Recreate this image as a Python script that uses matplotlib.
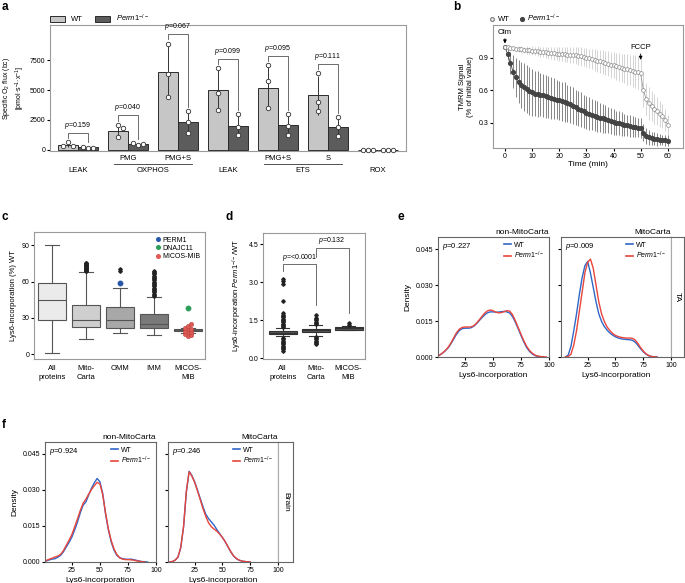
import matplotlib
matplotlib.use("Agg")
from matplotlib import pyplot as plt
from matplotlib import transforms
from matplotlib.patches import Patch
from matplotlib.lines import Line2D
import numpy as np

plt.rcParams["font.family"] = ["Liberation Sans", "DejaVu Sans"]
plt.rcParams["font.size"] = 5.5
plt.rcParams["mathtext.fontset"] = "custom"
plt.rcParams["mathtext.rm"] = "Liberation Sans"
plt.rcParams["mathtext.it"] = "Liberation Sans:italic"
plt.rcParams["axes.linewidth"] = 0.8
plt.rcParams["xtick.major.size"] = 2
plt.rcParams["ytick.major.size"] = 2
plt.rcParams["xtick.major.pad"] = 1.5
plt.rcParams["ytick.major.pad"] = 1.5
plt.rcParams["xtick.labelsize"] = 5
plt.rcParams["ytick.labelsize"] = 5

KO = r"$\mathit{Perm1}^{-/-}$"
nan = np.nan

# ---- a: respirometry ----
flux_sub = ["", "PMG", "PMG+S", "", "PMG+S", "S", ""]
flux_state = ["LEAK", "OXPHOS", "LEAK", "ETS", "ROX"]
state_groups = [(0, 0), (1, 2), (3, 3), (4, 5), (6, 6)]
wt_flux_mean = [420, 1600, 6550, 5000, 5140, 4580, 0]
ko_flux_mean = [220, 470, 2360, 2010, 2080, 1920, 0]
wt_flux_pts = [[630, 360, 280], [2090, 1790, 1100], [8890, 6330, 4390],
               [6830, 4750, 3360], [7080, 5720, 3500], [6420, 4030, 3280], [0, 0, 0]]
ko_flux_pts = [[190, 165, 275], [380, 450, 560], [3250, 2310, 1420],
               [2990, 1950, 1230], [3000, 2030, 1280], [2720, 1920, 1170], [0, 0, 0]]
flux_p = ["0.159", "0.040", "0.067", "0.099", "0.095", "0.111"]

# ---- b: TMRM time course (one value per minute) ----
tmrm_time = list(range(61))
wt_tmrm = [1.000, 0.995, 0.990, 0.985, 0.980, 0.978, 0.975, 0.972, 0.970, 0.967,
           0.965, 0.962, 0.958, 0.955, 0.952, 0.950, 0.947, 0.944, 0.941, 0.938,
           0.935, 0.932, 0.930, 0.928, 0.926, 0.923, 0.920, 0.916, 0.912, 0.907,
           0.900, 0.894, 0.887, 0.880, 0.872, 0.865, 0.857, 0.850, 0.843, 0.836,
           0.830, 0.822, 0.815, 0.808, 0.800, 0.793, 0.786, 0.779, 0.772, 0.765,
           0.755, 0.600, 0.520, 0.480, 0.455, 0.430, 0.410, 0.385, 0.360, 0.330,
           0.280]
wt_tmrm_sd = [0.000, 0.010, 0.015, 0.020, 0.020, 0.025, 0.030, 0.030, 0.035, 0.035,
              0.040, 0.040, 0.045, 0.045, 0.050, 0.050, 0.055, 0.055, 0.060, 0.060,
              0.065, 0.065, 0.070, 0.070, 0.075, 0.075, 0.080, 0.080, 0.085, 0.085,
              0.090, 0.090, 0.095, 0.100, 0.100, 0.105, 0.110, 0.110, 0.115, 0.120,
              0.120, 0.125, 0.130, 0.130, 0.135, 0.140, 0.140, 0.145, 0.150, 0.150,
              0.155, 0.150, 0.150, 0.150, 0.140, 0.140, 0.130, 0.120, 0.110, 0.100,
              0.090]
ko_tmrm = [1.000, 0.930, 0.850, 0.770, 0.720, 0.680, 0.650, 0.630, 0.610, 0.595,
           0.580, 0.570, 0.565, 0.560, 0.553, 0.545, 0.538, 0.530, 0.522, 0.515,
           0.508, 0.500, 0.492, 0.482, 0.470, 0.458, 0.445, 0.432, 0.420, 0.408,
           0.396, 0.386, 0.376, 0.367, 0.358, 0.350, 0.342, 0.334, 0.326, 0.318,
           0.310, 0.303, 0.296, 0.289, 0.283, 0.277, 0.272, 0.267, 0.262, 0.258,
           0.254, 0.210, 0.180, 0.168, 0.160, 0.155, 0.150, 0.146, 0.143, 0.140,
           0.138]
ko_tmrm_sd = [0.000, 0.050, 0.100, 0.150, 0.180, 0.200, 0.210, 0.220, 0.220, 0.220,
              0.220, 0.210, 0.210, 0.200, 0.200, 0.200, 0.190, 0.190, 0.190, 0.180,
              0.180, 0.180, 0.180, 0.170, 0.170, 0.170, 0.160, 0.160, 0.160, 0.150,
              0.150, 0.150, 0.140, 0.140, 0.140, 0.130, 0.130, 0.130, 0.120, 0.120,
              0.120, 0.110, 0.110, 0.110, 0.100, 0.100, 0.100, 0.100, 0.090, 0.090,
              0.090, 0.080, 0.070, 0.070, 0.060, 0.060, 0.060, 0.050, 0.050, 0.050,
              0.050]

# ---- c: Lys6 incorporation WT boxplots ----
c_groups = ["All\nproteins", "Mito-\nCarta", "OMM", "IMM", "MICOS-\nMIB"]
c_q1 = [28.3, 22.6, 21.7, 21.7, 19.3]
c_med = [44.5, 28.6, 28.6, 25.3, 20.0]
c_q3 = [59.2, 41.0, 39.1, 32.8, 20.8]
c_lo = [1.0, 12.9, 17.9, 15.7, 17.5]
c_hi = [90.5, 68.0, 54.8, 47.3, 22.0]
c_fliers = [[],
            [68.5, 69, 69.5, 70, 70.5, 71, 71.5, 72, 72.5, 73, 73.5, 74, 74.5, 75, 75.5],
            [68.8, 70.2],
            [48, 49, 50, 51, 52, 53, 54, 55, 56, 57, 58, 59, 60, 61, 62, 63, 64, 65, 66, 67, 68, 69],
            []]
micos_pts = [15, 16, 17, 18, 18.5, 19.5, 20.5, 21, 22, 23.5, 25]
perm1_omm = 59.0
dnajc11_micos = 38.5

# ---- d: Perm1/WT ratio boxplots ----
d_groups = ["All\nproteins", "Mito-\nCarta", "MICOS-\nMIB"]
d_q1 = [0.96, 1.05, 1.13]
d_med = [1.00, 1.10, 1.18]
d_q3 = [1.08, 1.15, 1.23]
d_lo = [0.86, 0.89, 1.10]
d_hi = [1.18, 1.31, 1.26]
d_fliers = [[0.3, 0.35, 0.4, 0.45, 0.5, 0.55, 0.6, 0.65, 0.7, 0.75, 0.8, 1.22, 1.27, 1.32, 1.37,
             1.42, 1.47, 1.52, 1.57, 1.62, 1.67, 1.72, 1.77, 2.25, 2.95, 3.05, 3.15],
            [0.55, 0.6, 0.65, 0.7, 0.75, 0.8, 0.85, 1.35, 1.4, 1.45, 1.5, 1.55, 1.6, 1.7],
            [1.32, 1.38]]
d_p = ["<0.0001", "0.132"]

# ---- e/f: density curves ----
dens_x = [1, 2.5, 5, 7.5, 10, 12.5, 15, 17.5, 20, 22.5, 25, 27.5, 30, 32.5, 35, 37.5, 40,
          42.5, 45, 47.5, 50, 52.5, 55, 57.5, 60, 62.5, 65, 67.5, 70, 72.5, 75, 77.5, 80,
          82.5, 85, 87.5, 90, 92.5, 95, 97.5, 100]
ta_non_wt = [0.0004, 0.0008, 0.0016, 0.0026, 0.0038, 0.0055, 0.0075, 0.0095, 0.0110, 0.0118,
             0.0120, 0.0120, 0.0121, 0.0127, 0.0137, 0.0150, 0.0163, 0.0175, 0.0184, 0.0188,
             0.0188, 0.0187, 0.0187, 0.0189, 0.0190, 0.0188, 0.0183, 0.0168, 0.0145, 0.0118,
             0.0090, 0.0063, 0.0040, 0.0024, 0.0013, 0.0006, 0.0002, 0.0001, 0.0, nan, nan]
ta_non_ko = [0.0004, 0.0008, 0.0016, 0.0027, 0.0040, 0.0058, 0.0080, 0.0101, 0.0116, 0.0123,
             0.0125, 0.0125, 0.0125, 0.0129, 0.0139, 0.0153, 0.0168, 0.0182, 0.0192, 0.0196,
             0.0193, 0.0187, 0.0184, 0.0185, 0.0189, 0.0193, 0.0191, 0.0176, 0.0151, 0.0123,
             0.0095, 0.0068, 0.0045, 0.0028, 0.0016, 0.0008, 0.0004, 0.0002, 0.0001, 0.0, nan]
ta_mito_wt = [nan, nan, 0.0, 0.0008, 0.0045, 0.0110, 0.0180, 0.0260, 0.0330, 0.0380,
              0.0398, 0.0350, 0.0290, 0.0230, 0.0180, 0.0148, 0.0127, 0.0112, 0.0100, 0.0091,
              0.0084, 0.0079, 0.0076, 0.0074, 0.0073, 0.0072, 0.0070, 0.0063, 0.0050, 0.0035,
              0.0022, 0.0012, 0.0005, 0.0002, 0.0001, 0.0, nan, nan, nan, nan, nan]
ta_mito_ko = [nan, nan, 0.0, 0.0002, 0.0012, 0.0050, 0.0110, 0.0190, 0.0270, 0.0350,
              0.0395, 0.0408, 0.0370, 0.0300, 0.0230, 0.0180, 0.0148, 0.0125, 0.0110, 0.0098,
              0.0090, 0.0085, 0.0082, 0.0080, 0.0079, 0.0079, 0.0078, 0.0072, 0.0058, 0.0040,
              0.0025, 0.0013, 0.0006, 0.0002, 0.0001, 0.0, nan, nan, nan, nan, nan]
br_non_wt = [0.0003, 0.0005, 0.0009, 0.0012, 0.0014, 0.0020, 0.0028, 0.0043, 0.0063, 0.0082,
             0.0104, 0.0134, 0.0167, 0.0205, 0.0237, 0.0250, 0.0280, 0.0308, 0.0330, 0.0348,
             0.0334, 0.0285, 0.0200, 0.0135, 0.0084, 0.0050, 0.0028, 0.0018, 0.0014, 0.0012,
             0.0011, 0.0012, 0.0010, 0.0007, 0.0004, 0.0002, 0.0001, 0.0, nan, nan, nan]
br_non_ko = [0.0004, 0.0007, 0.0012, 0.0016, 0.0021, 0.0025, 0.0032, 0.0048, 0.0070, 0.0091,
             0.0115, 0.0147, 0.0180, 0.0215, 0.0245, 0.0262, 0.0283, 0.0302, 0.0318, 0.0332,
             0.0325, 0.0280, 0.0205, 0.0138, 0.0090, 0.0055, 0.0032, 0.0018, 0.0012, 0.0010,
             0.0010, 0.0009, 0.0008, 0.0005, 0.0003, 0.0001, 0.0, nan, nan, nan, nan]
br_mito_wt = [nan, 0.0, 0.0002, 0.0008, 0.0020, 0.0060, 0.0146, 0.0290, 0.0378, 0.0360,
              0.0334, 0.0300, 0.0265, 0.0230, 0.0199, 0.0181, 0.0167, 0.0153, 0.0135, 0.0118,
              0.0102, 0.0084, 0.0063, 0.0042, 0.0025, 0.0014, 0.0007, 0.0004, 0.0002, 0.0001,
              0.0, nan, nan, nan, nan, nan, nan, nan, nan, nan, nan]
br_mito_ko = [nan, 0.0, 0.0002, 0.0008, 0.0021, 0.0062, 0.0148, 0.0295, 0.0376, 0.0358,
              0.0332, 0.0297, 0.0260, 0.0222, 0.0190, 0.0163, 0.0147, 0.0137, 0.0128, 0.0116,
              0.0102, 0.0085, 0.0064, 0.0043, 0.0026, 0.0015, 0.0008, 0.0004, 0.0002, 0.0001,
              0.0, nan, nan, nan, nan, nan, nan, nan, nan, nan, nan]
dens_p = {"TA": ["0.227", "0.009"], "Brain": ["0.924", "0.246"]}

BLUE = "#2f67c8"
RED = "#e8453c"
FRAME = "#9a9a9a"

W, H = 685, 583
fig = plt.figure(figsize=(W / 100, H / 100), dpi=100)


def box(x0, y0, x1, y1):
    # axes placed by pixel corners (top-left origin)
    return fig.add_axes([x0 / W, 1 - y1 / H, (x1 - x0) / W, (y1 - y0) / H])


def frame(ax, col=FRAME):
    for s in ax.spines.values():
        s.set_color(col)


def swarm(vals, dy, dx):
    # spread overlapping points sideways, like a beeswarm
    placed, offs = [], []
    for v in vals:
        k, o = 0, 0.0
        while any(abs(v - pv) < dy and abs(o - po) < dx * 0.9 for pv, po in placed):
            k += 1
            o = dx * ((k + 1) // 2) * (1 if k % 2 else -1)
        placed.append((v, o))
        offs.append(o)
    return np.array(offs)


def label(x, y, s):
    fig.text(x / W, 1 - y / H, s, fontsize=8.5, fontweight="bold", ha="left", va="center")


# ================= a =================
ax = box(50, 25, 406, 151)
frame(ax)
for i in range(len(wt_flux_mean)):
    for mean, pts, off, col in ((wt_flux_mean[i], wt_flux_pts[i], -0.2, "#c6c6c6"),
                                (ko_flux_mean[i], ko_flux_pts[i], 0.2, "#5c5c5c")):
        sd = np.std(pts, ddof=1)
        ax.bar(i + off, mean, 0.4, color=col, edgecolor="#2b2b2b", lw=0.7, zorder=2)
        ax.vlines(i + off, mean - sd, mean + sd, color="#333333", lw=0.7, zorder=3)
        ax.plot(i + off + swarm(pts, 420, 0.1), pts, "o", ms=3.2, mfc="white",
                mec="#333333", mew=0.6, zorder=4, clip_on=False)
for i, p in enumerate(flux_p):
    wmax, kmax = max(wt_flux_pts[i]), max(ko_flux_pts[i])
    top = wmax + 800
    ax.plot([i - 0.2, i - 0.2, i + 0.2, i + 0.2], [wmax + 350, top, top, kmax + 350],
            color="#555555", lw=0.6)
    ax.text(i, top + 150, r"$\mathit{p}$=" + p, ha="center", va="bottom", fontsize=5)
trans = transforms.blended_transform_factory(ax.transData, ax.transAxes)
for i, s in enumerate(flux_sub):
    ax.text(i, -0.06, s, transform=trans, ha="center", va="center", fontsize=5.5)
for name, (g0, g1) in zip(flux_state, state_groups):
    ax.text((g0 + g1) / 2, -0.155, name, transform=trans, ha="center", va="center", fontsize=5.5)
    if g1 > g0:
        ax.plot([g0 - 0.28, g1 + 0.28], [-0.1, -0.1], transform=trans, color="#333333",
                lw=0.6, clip_on=False)
ax.set_xlim(-0.56, 6.56)
ax.set_ylim(-100, 10450)
ax.set_xticks([])
ax.set_yticks([0, 2500, 5000, 7500])
ax.set_ylabel("Specific O$_2$ flux (bc)\n[pmol·s$^{-1}$·x$^{-1}$]", fontsize=5, labelpad=1.5)
ax.legend(handles=[Patch(fc="#c6c6c6", ec="#2b2b2b", lw=0.7, label="WT"),
                   Patch(fc="#5c5c5c", ec="#2b2b2b", lw=0.7, label=KO)],
          loc="lower left", bbox_to_anchor=(0, 1.01), ncol=2, frameon=False, fontsize=5.5,
          handlelength=2.0, handleheight=0.8, columnspacing=1.5, borderaxespad=0, borderpad=0)

# ================= b =================
ax = box(493, 25, 683, 148)
frame(ax)
ax.errorbar(tmrm_time, ko_tmrm, yerr=ko_tmrm_sd, fmt="o-", ms=2.7, mfc="#444444", mec="#444444",
            color="#444444", lw=0.6, ecolor="#555555", elinewidth=0.5, capsize=0)
ax.errorbar(tmrm_time, wt_tmrm, yerr=wt_tmrm_sd, fmt="o-", ms=2.7, mfc="white", mec="#8a8a8a",
            mew=0.5, color="#9a9a9a", lw=0.6, ecolor="#c4c4c4", elinewidth=0.5, capsize=0)
arrow = dict(arrowstyle="-|>", lw=0.6, color="k", mutation_scale=5, shrinkA=0, shrinkB=0)
ax.annotate("Olm", xy=(0, 1.03), xytext=(0, 1.1), ha="center", va="bottom", fontsize=5.5,
            arrowprops=arrow)
ax.annotate("FCCP", xy=(50, 0.88), xytext=(50, 0.96), ha="center", va="bottom", fontsize=5.5,
            arrowprops=arrow)
ax.set_xlim(-4.4, 65.6)
ax.set_ylim(0.07, 1.2)
ax.set_xticks([0, 10, 20, 30, 40, 50, 60])
ax.set_yticks([0.3, 0.6, 0.9])
ax.set_xlabel("Time (min)", fontsize=6, labelpad=1)
ax.set_ylabel("TMRM Signal\n(% of initial value)", fontsize=5.5, labelpad=3)
ax.legend(handles=[Line2D([], [], marker="o", ls="", ms=2.7, mfc="white", mec="#8a8a8a", label="WT"),
                   Line2D([], [], marker="o", ls="", ms=2.7, mfc="#444444", mec="#444444", label=KO)],
          loc="lower left", bbox_to_anchor=(-0.02, 1.01), ncol=2, frameon=False, fontsize=5.5,
          handlelength=0.8, handletextpad=0.3, columnspacing=1.2, borderaxespad=0, borderpad=0)

# ================= c =================
ax = box(34, 232, 205, 359)
frame(ax)
c_cols = ["#ebebeb", "#cfcfcf", "#a8a8a8", "#7a7a7a", "#3a3a3a"]
stats = [dict(med=c_med[i], q1=c_q1[i], q3=c_q3[i], whislo=c_lo[i], whishi=c_hi[i],
              fliers=c_fliers[i]) for i in range(len(c_groups))]
bp = ax.bxp(stats, positions=range(1, 6), widths=0.8, patch_artist=True,
            boxprops=dict(edgecolor="#555555", lw=0.8),
            medianprops=dict(color="#555555", lw=0.8),
            whiskerprops=dict(color="#555555", lw=0.8),
            capprops=dict(color="#555555", lw=0.8),
            flierprops=dict(marker="D", ms=1.8, mfc="#222222", mec="#222222"))
for patch, col in zip(bp["boxes"], c_cols):
    patch.set_facecolor(col)
ax.plot(5 + swarm(micos_pts, 2.5, 0.09), micos_pts, "o", ms=3.2, mfc="#e05a55",
        mec="#b03a36", mew=0.3, zorder=4)
ax.plot(3, perm1_omm, "o", ms=3.2, color="#2a58a8", zorder=4)
ax.plot(5, dnajc11_micos, "o", ms=3.2, color="#2e9e5b", zorder=4)
ax.set_xlim(0.47, 5.5)
ax.set_ylim(-4, 101)
ax.set_yticks([0, 30, 60, 90])
ax.set_xticks(range(1, 6))
ax.set_xticklabels(c_groups, fontsize=5.5, linespacing=1.4)
ax.tick_params(axis="x", length=0, pad=4)
ax.set_ylabel("Lys6-incorporation (%) WT", fontsize=5.5, labelpad=3)
ax.legend(handles=[Line2D([], [], marker="o", ls="", ms=2.6, color=c, label=l)
                   for c, l in (("#2a58a8", "PERM1"), ("#2e9e5b", "DNAJC11"), ("#e05a55", "MICOS-MIB"))],
          loc="upper right", frameon=False, fontsize=5, handletextpad=0.1, labelspacing=0.15,
          borderaxespad=0.3, handlelength=1.0)

# ================= d =================
ax = box(263, 233, 365, 359)
frame(ax)
stats = [dict(med=d_med[i], q1=d_q1[i], q3=d_q3[i], whislo=d_lo[i], whishi=d_hi[i],
              fliers=d_fliers[i]) for i in range(len(d_groups))]
bp = ax.bxp(stats, positions=range(1, 4), widths=0.85, capwidths=0.4, patch_artist=True,
            boxprops=dict(facecolor="#555555", edgecolor="#333333", lw=0.8),
            medianprops=dict(color="#333333", lw=0.8),
            whiskerprops=dict(color="#333333", lw=0.8),
            capprops=dict(color="#333333", lw=0.8),
            flierprops=dict(marker="D", ms=1.8, mfc="#222222", mec="#222222"))
tops = [3.72, 4.37]
for k, p in enumerate(d_p):
    x0, x1 = k + 1, k + 2
    left = max(d_fliers[k]) + 0.3 if k == 0 else tops[0] + 0.3
    right = max(d_fliers[k + 1]) + 0.4
    ax.plot([x0, x0, x1, x1], [left, tops[k], tops[k], right], color="#555555", lw=0.6)
    ax.text((x0 + x1) / 2, tops[k] + 0.06, r"$\mathit{p}$=" + p, ha="center", va="bottom", fontsize=5)
ax.set_xlim(0.4, 3.5)
ax.set_ylim(-0.03, 4.95)
ax.set_yticks([0, 1.5, 3.0, 4.5])
ax.set_yticklabels(["0.0", "1.5", "3.0", "4.5"])
ax.set_xticks(range(1, 4))
ax.set_xticklabels(d_groups, fontsize=5.5, linespacing=1.4)
ax.tick_params(axis="x", length=0, pad=4)
ax.set_ylabel(r"Lys6-incorporation $\mathit{Perm1}^{-/-}$/WT", fontsize=5.5, labelpad=3)


# ================= e / f =================
def density(ax, wt, ko, p, title, left):
    frame(ax, "#666666")
    ax.plot(dens_x, wt, color=BLUE, lw=1.0)
    ax.plot(dens_x, ko, color=RED, lw=1.0)
    ax.set_xlim(1, 100)
    ax.set_ylim(0, 0.05)
    ax.set_xticks([25, 50, 75, 100])
    ax.set_yticks([0, 0.015, 0.03, 0.045])
    if left:
        ax.set_yticklabels(["0.000", "0.015", "0.030", "0.045"])
        ax.set_ylabel("Density", fontsize=6, labelpad=3)
    else:
        ax.set_yticklabels([])
    ax.set_xlabel("Lys6-incorporation", fontsize=6, labelpad=2)
    ax.set_title(title, loc="right", fontsize=6, pad=2)
    ax.text(0.04, 0.97, r"$\mathit{p}$=" + p, transform=ax.transAxes, va="top", fontsize=5.5)
    ax.legend(handles=[Line2D([], [], color=BLUE, lw=1.2, label="WT"),
                       Line2D([], [], color=RED, lw=1.2, label=KO)],
              loc="upper right", frameon=False, fontsize=5, handlelength=1.0,
              borderaxespad=0.3, labelspacing=0.1, handletextpad=0.4)


def strip(x0, y0, x1, y1, text):
    s = box(x0, y0, x1, y1)
    frame(s, "#666666")
    s.spines["left"].set_color("#aaaaaa")
    s.set_xticks([])
    s.set_yticks([])
    s.text(0.5, 0.5, text, rotation=-90, ha="center", va="center", transform=s.transAxes, fontsize=6)


density(box(438, 237, 549, 357), ta_non_wt, ta_non_ko, dens_p["TA"][0], "non-MitoCarta", True)
density(box(561, 237, 671, 357), ta_mito_wt, ta_mito_ko, dens_p["TA"][1], "MitoCarta", False)
strip(671, 237, 684, 357, "TA")

density(box(45, 442, 156, 562), br_non_wt, br_non_ko, dens_p["Brain"][0], "non-MitoCarta", True)
density(box(168, 442, 278, 562), br_mito_wt, br_mito_ko, dens_p["Brain"][1], "MitoCarta", False)
strip(278, 442, 293, 562, "Brain")

label(2, 7, "a")
label(453, 7, "b")
label(2, 217, "c")
label(225, 217, "d")
label(397, 217, "e")
label(2, 425, "f")

fig.savefig("out.png", dpi=100)
